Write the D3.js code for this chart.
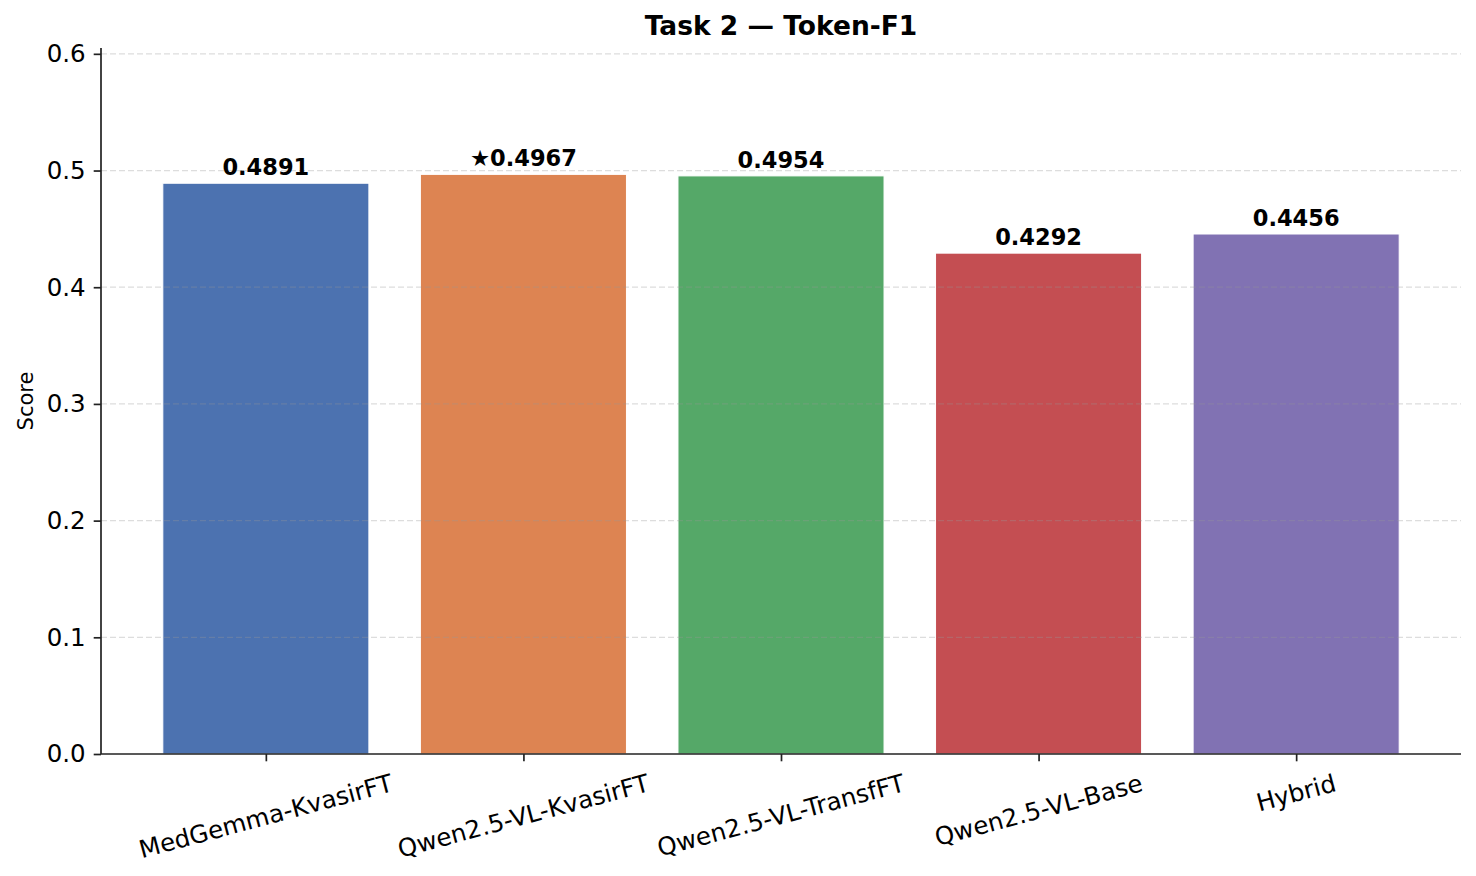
<!DOCTYPE html>
<html>
<head>
	<meta charset="utf-8">
	<title>Task 2 - Token-F1</title>
	<script src="https://cdn.jsdelivr.net/npm/d3@7"></script>
	<style type="text/css">
	html, body{
		margin:0;
		background:#ffffff;
	}
	svg text{
		font-family: "DejaVu Sans", sans-serif;
		fill: #000;
	}
	</style>
</head>
<body>
	<svg id="chart" width="1476" height="876"></svg>
	<script type="text/javascript">
	// chart values
	var models = ["MedGemma-KvasirFT", "Qwen2.5-VL-KvasirFT", "Qwen2.5-VL-TransfFT", "Qwen2.5-VL-Base", "Hybrid"];
	var scores = [0.4891, 0.4967, 0.4954, 0.4292, 0.4456];
	var barColors = ["#4C72B0", "#DD8452", "#55A868", "#C44E52", "#8172B3"];
	var yTicks = [0.0, 0.1, 0.2, 0.3, 0.4, 0.5, 0.6];
	var bestIndex = 1;

	// plot box (window.top is reserved, so no plain "top")
	var plotLeft = 101, plotRight = 1461, plotTop = 48, plotBottom = 754;

	var svg = d3.select("#chart");

	var x = d3.scaleLinear().domain([-0.64, models.length - 1 + 0.64]).range([plotLeft, plotRight]);
	var y = d3.scaleLinear().domain([0, 0.605]).range([plotBottom, plotTop]);

	/* bars */
	svg.append("g").selectAll("rect")
		.data(scores)
		.enter().append("rect")
		.attr("x", function(d, i){ return x(i - 0.4); })
		.attr("width", function(d, i){ return x(i + 0.4) - x(i - 0.4); })
		.attr("y", function(d){ return y(d); })
		.attr("height", function(d){ return y(0) - y(d); })
		.attr("fill", function(d, i){ return barColors[i]; })
		.attr("stroke", "#ffffff")
		.attr("stroke-width", 1);

	/* grid, drawn over the bars like the original */
	svg.append("g").selectAll("line")
		.data(yTicks.slice(1))
		.enter().append("line")
		.attr("x1", plotLeft).attr("x2", plotRight)
		.attr("y1", function(d){ return y(d); })
		.attr("y2", function(d){ return y(d); })
		.attr("stroke", "#999999")
		.attr("stroke-opacity", 0.33)
		.attr("stroke-width", 1.3)
		.attr("stroke-dasharray", "6,3");

	/* value labels */
	svg.append("g").selectAll("text")
		.data(scores)
		.enter().append("text")
		.attr("x", function(d, i){ return x(i); })
		.attr("y", function(d){ return y(d) - 8; })
		.attr("text-anchor", "middle")
		.style("font-size", "22.5px")
		.style("font-weight", "bold")
		.text(function(d, i){ return (i == bestIndex ? "\u2605" : "") + d.toFixed(4); });

	/* y axis */
	var yAxis = d3.axisLeft(y)
		.tickValues(yTicks)
		.tickFormat(d3.format(".1f"))
		.tickSize(7.3)
		.tickPadding(8);
	var ya = svg.append("g").attr("transform", "translate(" + plotLeft + ",0)").call(yAxis);
	ya.select(".domain").attr("d", "M0," + plotTop + "V" + plotBottom).attr("stroke", "#222").attr("stroke-width", 1.7);
	ya.selectAll(".tick line").attr("stroke", "#222").attr("stroke-width", 1.7);
	ya.selectAll(".tick text").style("font-size", "24.5px").style("font-family", "DejaVu Sans").attr("fill", "#000");

	/* x axis */
	var xAxis = d3.axisBottom(x)
		.tickValues(d3.range(models.length))
		.tickFormat("")
		.tickSize(7.3);
	var xa = svg.append("g").attr("transform", "translate(0," + plotBottom + ")").call(xAxis);
	xa.select(".domain").attr("d", "M" + plotLeft + ",0H" + plotRight).attr("stroke", "#222").attr("stroke-width", 1.7);
	xa.selectAll(".tick line").attr("stroke", "#222").attr("stroke-width", 1.7);

	/* rotated category labels, centred on the tick like matplotlib */
	var ang = 15 * Math.PI / 180;
	var labelTop = plotBottom + 7.3 + 7.3;
	var fs = 24.5;
	svg.append("g").selectAll("text")
		.data(models)
		.enter().append("text")
		.style("font-size", fs + "px")
		.attr("text-anchor", "middle")
		.attr("dominant-baseline", "central")
		.text(function(d){ return d; })
		.each(function(d, i){
			var w = this.getComputedTextLength();
			var h = fs * 1.17;
			var cy = labelTop + (w * Math.sin(ang) + h * Math.cos(ang)) / 2;
			var cx = x(i);
			d3.select(this)
				.attr("x", 0).attr("y", 0)
				.attr("transform", "translate(" + cx + "," + cy + ") rotate(-15)");
		});

	/* y label */
	svg.append("text")
		.attr("transform", "translate(33," + ((plotTop + plotBottom) / 2) + ") rotate(-90)")
		.attr("text-anchor", "middle")
		.style("font-size", "21px")
		.text("Score");

	/* title */
	svg.append("text")
		.attr("x", (plotLeft + plotRight) / 2)
		.attr("y", 35)
		.attr("text-anchor", "middle")
		.style("font-size", "26.5px")
		.style("font-weight", "bold")
		.text("Task 2 \u2014 Token-F1");
	</script>
</body>
</html>
